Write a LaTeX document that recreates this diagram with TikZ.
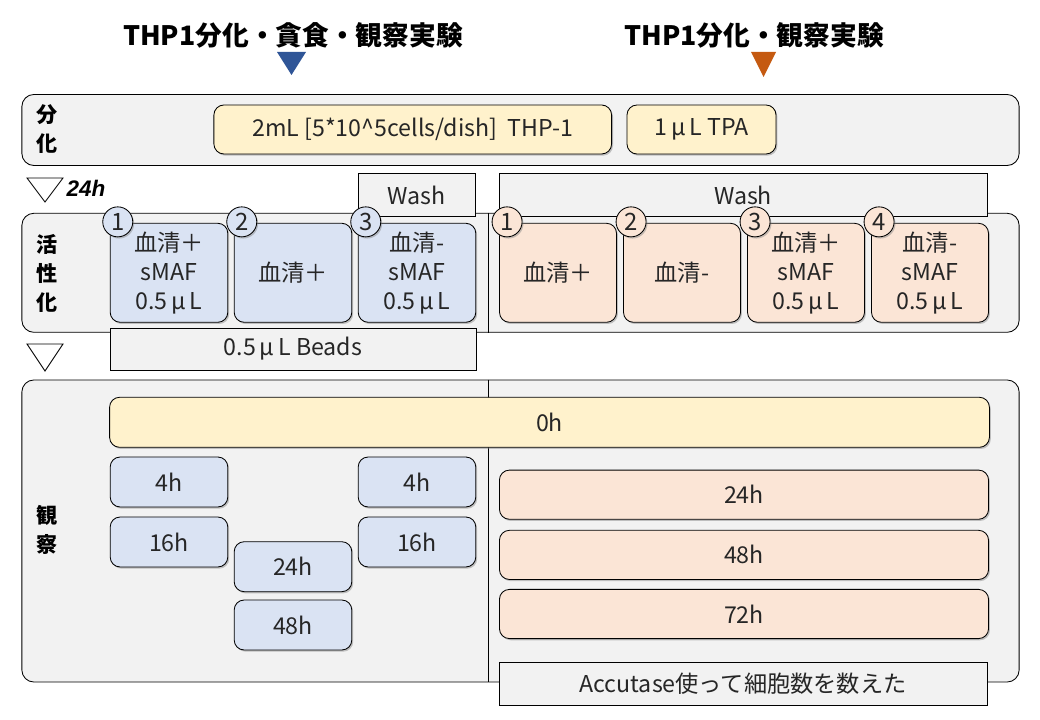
\documentclass[tikz,border=0pt]{standalone}
\usepackage{fontspec}
\setmainfont{Noto Sans CJK JP}
\newfontfamily\hourfont{Liberation Sans}
\usetikzlibrary{shadows}

\definecolor{panelgray}{HTML}{F2F2F2}
\definecolor{thpyellow}{HTML}{FFF2CC}
\definecolor{phagoblue}{HTML}{DAE3F3}
\definecolor{obsorange}{HTML}{FBE5D6}
\definecolor{markblue}{HTML}{2F5597}
\definecolor{markorange}{HTML}{C55A11}
\definecolor{ink}{HTML}{262626}

\begin{document}
\begin{tikzpicture}[x=0.025cm, y=-0.025cm,
  every node/.style={text=ink, font=\fontsize{16.5}{20.6}\selectfont},
  panel/.style={draw, line width=0.6pt, fill=panelgray, rounded corners=0.3cm},
  card/.style={draw, line width=0.6pt, rounded corners=0.25cm, align=center, inner sep=0pt,
    drop shadow={shadow xshift=1pt, shadow yshift=-1.2pt, opacity=0.45}},
  yellowcard/.style={card, fill=thpyellow},
  bluecard/.style={card, fill=phagoblue},
  orangecard/.style={card, fill=obsorange},
  note/.style={draw, line width=0.6pt, fill=panelgray, inner sep=0pt},
  num/.style={circle, draw, line width=0.6pt, minimum size=0.75cm, inner sep=0pt,
    font=\fontsize{17}{17}\selectfont,
    drop shadow={shadow xshift=1pt, shadow yshift=-1.2pt, opacity=0.45}},
  side/.style={font=\fontsize{15}{20.6}\selectfont\bfseries, align=center, text=black},
  title/.style={font=\fontsize{19}{19}\selectfont\bfseries, text=black}
]
\useasboundingbox (0,0) rectangle (1040,720);

% Titles
\node[title] (phagotitle) at (293,35) {THP1分化・貪食・観察実験};
\node[title] (obstitle) at (754,35) {THP1分化・観察実験};
\fill[markblue] (277,52) -- (306,52) -- (291.5,75) -- cycle;
\fill[markorange] (751,52) -- (776,52) -- (763.5,77) -- cycle;

% Panels
\node[panel, minimum width=24.925cm, minimum height=1.775cm] (diffpanel) at (520.5,130) {};
\node[panel, minimum width=24.925cm, minimum height=2.975cm] (actpanel) at (520.5,272.8) {};
\node[panel, minimum width=24.925cm, minimum height=7.55cm] (obspanel) at (520.5,531) {};
\draw[line width=0.6pt] (488,0 |- actpanel.north) -- (488,0 |- actpanel.south);
\draw[line width=0.6pt] (488,0 |- obspanel.north) -- (488,0 |- obspanel.south);

% Side labels
\node[side] (difflabel) at (47,129) {分\\化};
\node[side] (actlabel) at (47,273) {活\\性\\化};
\node[side] (obslabel) at (47,530) {観\\察};

% Differentiation
\node[yellowcard, minimum width=9.94cm, minimum height=1.225cm] (thp) at (412.75,129.5) {2mL [5*10\textasciicircum 5cells/dish]\ \ THP-1};
\node[yellowcard, minimum width=3.725cm, minimum height=1.225cm] (tpa) at (701.5,129.5) {1\,μ\,L TPA};

% Steps between panels
\draw[line width=0.6pt] (27,178) -- (63,178) -- (45,202) -- cycle;
\node[font=\hourfont\fontsize{16}{16}\selectfont\bfseries\itshape, text=black] (wait24) at (86,188) {24h};
\draw[line width=0.6pt] (27,344) -- (63,344) -- (45,371) -- cycle;
\node[note, minimum width=2.925cm, minimum height=1.07cm] (washl) at (416.5,195.3) {Wash};
\node[note, minimum width=12.2cm, minimum height=1.07cm] (washr) at (743,195.3) {Wash};

% Activation: phagocytosis side
\node[bluecard, minimum width=2.94cm, minimum height=2.475cm] (b1) at (169,272.8) {血清＋\\sMAF\\0.5\,μ\,L};
\node[bluecard, minimum width=2.94cm, minimum height=2.475cm] (b2) at (293,272.8) {血清＋};
\node[bluecard, minimum width=2.94cm, minimum height=2.475cm] (b3) at (417,272.8) {血清-\\sMAF\\0.5\,μ\,L};
\node[num, fill=phagoblue] (nb1) at ([shift={(8,-1)}]b1.north west) {1};
\node[num, fill=phagoblue] (nb2) at ([shift={(8,-1)}]b2.north west) {2};
\node[num, fill=phagoblue] (nb3) at ([shift={(8,-1)}]b3.north west) {3};
\node[note, minimum width=9.15cm, minimum height=1.05cm] (beads) at (293,349) {0.5\,μ\,L Beads};

% Activation: observation side
\node[orangecard, minimum width=2.925cm, minimum height=2.475cm] (o1) at (558,272.8) {血清＋};
\node[orangecard, minimum width=2.925cm, minimum height=2.475cm] (o2) at (682,272.8) {血清-};
\node[orangecard, minimum width=2.925cm, minimum height=2.475cm] (o3) at (806,272.8) {血清＋\\sMAF\\0.5\,μ\,L};
\node[orangecard, minimum width=2.925cm, minimum height=2.475cm] (o4) at (930,272.8) {血清-\\sMAF\\0.5\,μ\,L};
\node[num, fill=obsorange] (no1) at ([shift={(8,-1)}]o1.north west) {1};
\node[num, fill=obsorange] (no2) at ([shift={(8,-1)}]o2.north west) {2};
\node[num, fill=obsorange] (no3) at ([shift={(8,-1)}]o3.north west) {3};
\node[num, fill=obsorange] (no4) at ([shift={(8,-1)}]o4.north west) {4};

% Observation times
\node[yellowcard, minimum width=21.99cm, minimum height=1.25cm] (t0) at (549.5,422.3) {0h};
\node[bluecard, minimum width=2.94cm, minimum height=1.25cm] (bl4) at (169,482) {4h};
\node[bluecard, minimum width=2.94cm, minimum height=1.25cm] (bl16) at (169,542) {16h};
\node[bluecard, minimum width=2.94cm, minimum height=1.25cm] (bm24) at (293,566.7) {24h};
\node[bluecard, minimum width=2.94cm, minimum height=1.25cm] (bm48) at (293,625) {48h};
\node[bluecard, minimum width=2.94cm, minimum height=1.25cm] (br4) at (417,482) {4h};
\node[bluecard, minimum width=2.94cm, minimum height=1.25cm] (br16) at (417,542) {16h};
\node[orangecard, minimum width=12.225cm, minimum height=1.23cm] (o24) at (744,494.7) {24h};
\node[orangecard, minimum width=12.225cm, minimum height=1.23cm] (o48) at (744,554.9) {48h};
\node[orangecard, minimum width=12.225cm, minimum height=1.23cm] (o72) at (744,614) {72h};
\node[note, minimum width=12.2cm, minimum height=1.07cm] (count) at (743,683.8) {Accutase使って細胞数を数えた};

\end{tikzpicture}
\end{document}
